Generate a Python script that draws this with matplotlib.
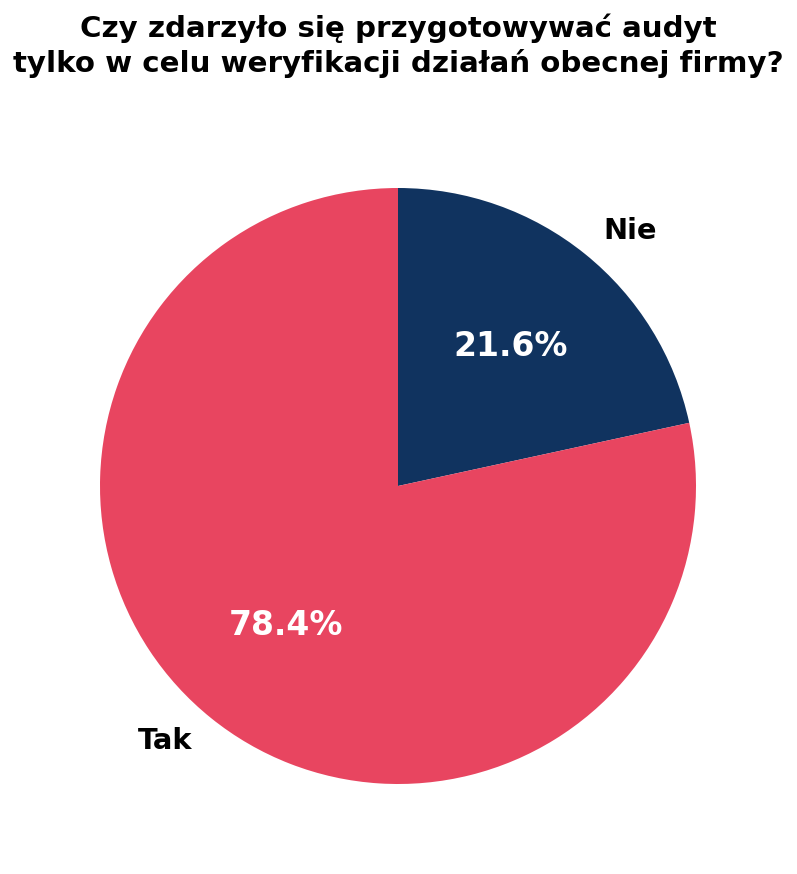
import matplotlib
matplotlib.use("Agg")
import matplotlib.pyplot as plt

labels = ["Nie", "Tak"]
values = [21.6, 78.4]
colors = ["#10335F", "#E84560"]
title = "Czy zdarzyło się przygotowywać audyt\ntylko w celu weryfikacji działań obecnej firmy?"

fig = plt.figure(figsize=(7.97, 8.74), dpi=100)
W, H = 797, 874
cx, cy, r = 398, 486, 298
ax = fig.add_axes([(cx - r) / W, (H - cy - r) / H, 2 * r / W, 2 * r / H])
wedges, texts, autotexts = ax.pie(values, labels=labels, colors=colors, startangle=90,
                                  counterclock=False, autopct="%1.1f%%", pctdistance=0.6,
                                  labeldistance=1.1,
                                  textprops=dict(fontsize=20.8, fontweight="bold", color="black"))
for t in autotexts:
    t.set_color("white")
    t.set_fontsize(23.8)
    t.set_fontweight("bold")
ax.set_xlim(-1, 1)
ax.set_ylim(-1, 1)
ax.set_aspect("equal")
for w in wedges:
    w.set_clip_on(False)
fig.text(0.5, 1 - 46 / H, title, ha="center", va="center", fontsize=21.1, fontweight="bold",
         linespacing=1.25)
fig.savefig("out.png", dpi=100)
